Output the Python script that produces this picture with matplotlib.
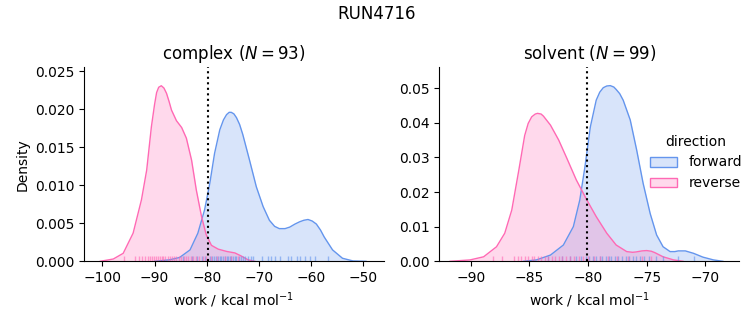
import matplotlib.pyplot as plt
from matplotlib.patches import Patch
from matplotlib.colors import to_rgba

# KDE curves (work in kcal/mol, density)
cx_fwd_x = [-90.0, -87.1, -85.2, -83.2, -81.7, -80.4, -79.4, -78.5, -77.5, -76.8, -76.2, -75.7, -75.3,
            -74.8, -74.3, -73.7, -73.1, -71.8, -70.5, -69.2, -68.0, -67.0, -66.1, -65.0, -64.1, -63.1,
            -62.2, -61.4, -60.6, -59.8, -59.0, -58.2, -57.5, -55.9, -54.0, -52.0, -49.5]
cx_fwd_y = [0.0, 0.0002, 0.0005, 0.0015, 0.0037, 0.0068, 0.0103, 0.0142, 0.0173, 0.0186, 0.0193, 0.0196, 0.0196,
            0.0194, 0.0189, 0.0180, 0.0167, 0.0133, 0.0098, 0.0072, 0.0054, 0.0046, 0.0043, 0.0043, 0.0045, 0.0049,
            0.0052, 0.0054, 0.0055, 0.0053, 0.0049, 0.0041, 0.0032, 0.0015, 0.0004, 0.00005, 0.0]
cx_rev_x = [-100.4, -97.9, -96.0, -94.1, -92.5, -91.5, -90.6, -90.0, -89.6, -89.2, -88.7, -88.2, -87.7,
            -87.2, -86.75, -85.8, -84.8, -83.9, -82.9, -82.0, -81.0, -80.1, -79.1, -77.8, -76.2, -74.6,
            -73.4, -72.1, -70.8]
cx_rev_y = [0.0, 0.0003, 0.00105, 0.0037, 0.0081, 0.0120, 0.0177, 0.0206, 0.0222, 0.0229, 0.0231, 0.0228, 0.0221,
            0.0210, 0.0199, 0.0185, 0.0176, 0.0162, 0.0133, 0.0094, 0.0059, 0.0035, 0.0021, 0.0016, 0.0013, 0.0011,
            0.0007, 0.0002, 0.0]

sv_fwd_x = [-85.5, -84.4, -83.2, -82.1, -81.25, -80.7, -80.26, -79.8, -79.3, -79.0, -78.7, -78.4, -78.1,
            -77.8, -77.6, -77.3, -77.0, -76.4, -75.85, -75.3, -74.7, -74.15, -73.6, -73.0, -72.6, -72.3,
            -71.7, -71.0, -70.2, -69.3, -68.5]
sv_fwd_y = [0.0, 0.0004, 0.0018, 0.0047, 0.0100, 0.0177, 0.0273, 0.0388, 0.0465, 0.0488, 0.0501, 0.0506, 0.0507,
            0.0503, 0.0496, 0.0484, 0.0465, 0.0408, 0.0321, 0.0225, 0.0138, 0.0076, 0.0042, 0.0028, 0.0028, 0.0030,
            0.0030, 0.0023, 0.0012, 0.0004, 0.0]
sv_rev_x = [-91.76, -90.06, -88.9, -87.8, -87.1, -86.5, -85.9, -85.4, -85.1, -84.8, -84.5, -84.3, -84.0,
            -83.8, -83.2, -82.5, -81.8, -81.0, -80.1, -79.3, -78.4, -77.6, -76.7, -76.2, -75.9, -75.4, -75.0,
            -74.6, -74.3, -73.6, -72.7, -71.9]
sv_rev_y = [0.0, 0.0004, 0.0013, 0.0042, 0.0081, 0.0148, 0.0263, 0.0363, 0.0398, 0.0417, 0.0425, 0.0427, 0.0425,
            0.0419, 0.0393, 0.0350, 0.0297, 0.0235, 0.0177, 0.0129, 0.0081, 0.0047, 0.0028, 0.0026, 0.0027, 0.0030, 0.0031,
            0.0029, 0.0025, 0.0013, 0.0004, 0.0]

# rug positions (approximate, read from the tick marks)
cx_fwd_rug = [-84.6, -82.9, -81.8, -81.0, -80.4, -79.4, -79.0, -78.6, -78.3, -77.9, -77.5, -77.2, -76.9,
              -76.5, -76.2, -75.9, -75.6, -75.3, -75.0, -74.6, -74.3, -73.9, -73.5, -73.1, -72.6, -72.1,
              -71.6, -71.2, -69.5, -68.3, -67.6, -67.0, -66.0, -64.4, -63.8, -62.8, -62.2, -61.2, -60.3,
              -59.3, -56.8]
cx_rev_rug = [-95.8, -93.7, -93.0, -92.4, -91.8, -91.3, -90.9, -90.5, -90.1, -89.7, -89.3, -89.0, -88.6,
              -88.3, -87.9, -87.5, -87.1, -86.7, -86.2, -85.8, -85.4, -84.9, -84.4, -83.9, -83.5, -83.0,
              -82.6, -82.0, -81.4, -80.8, -80.2, -79.2, -78.0, -76.5, -75.3, -74.1]
sv_fwd_rug = [-83.4, -82.2, -81.5, -81.0, -80.6, -80.2, -79.9, -79.6, -79.3, -79.0, -78.8, -78.5, -78.2,
              -78.0, -77.7, -77.4, -77.1, -76.8, -76.5, -76.2, -75.9, -75.6, -75.2, -74.8, -74.2, -73.6,
              -72.3, -71.0]
sv_rev_rug = [-88.1, -87.3, -86.3, -86.0, -85.7, -85.4, -85.1, -84.8, -84.6, -84.3, -84.0, -83.7, -83.4,
              -83.1, -82.8, -82.5, -82.2, -81.9, -81.5, -81.2, -80.8, -80.4, -80.0, -79.5, -79.0, -78.3,
              -77.5, -76.6, -75.4, -74.6]

cx_estimate = -79.7
sv_estimate = -80.1

panels = [
    dict(name='complex', n=93, fwd=(cx_fwd_x, cx_fwd_y), rev=(cx_rev_x, cx_rev_y),
         rug=(cx_fwd_rug, cx_rev_rug), est=cx_estimate, xlim=(-103.5, -46.1),
         ylim=(0, 0.02553), yticks=[0, 0.005, 0.01, 0.015, 0.02, 0.025], ytfmt='{:.3f}',
         pos=[0.1116, 0.196, 0.398, 0.597]),
    dict(name='solvent', n=99, fwd=(sv_fwd_x, sv_fwd_y), rev=(sv_rev_x, sv_rev_y),
         rug=(sv_fwd_rug, sv_rev_rug), est=sv_estimate, xlim=(-92.68, -67.1),
         ylim=(0, 0.056), yticks=[0, 0.01, 0.02, 0.03, 0.04, 0.05], ytfmt='{:.2f}',
         pos=[0.5834, 0.196, 0.3984, 0.597]),
]

fwd_col = 'cornflowerblue'
rev_col = 'hotpink'

fig = plt.figure(figsize=(7.53, 3.25), dpi=100)
fig.suptitle('RUN4716', fontsize=12, y=0.985)

for i, p in enumerate(panels):
    ax = fig.add_axes(p['pos'])
    for (xs, ys), col in [(p['fwd'], fwd_col), (p['rev'], rev_col)]:
        ax.fill_between(xs, ys, color=col, alpha=0.25, lw=0)
        ax.plot(xs, ys, color=col, lw=1, solid_joinstyle='round')
    for rug, col in zip(p['rug'], [fwd_col, rev_col]):
        ax.vlines(rug, 0, 0.025, transform=ax.get_xaxis_transform(), color=col, lw=1, alpha=0.6)
    ax.axvline(p['est'], color='black', ls=':', lw=1.5)
    ax.set_xlim(*p['xlim'])
    ax.set_ylim(*p['ylim'])
    ax.set_yticks(p['yticks'])
    ax.set_yticklabels([p['ytfmt'].format(t) for t in p['yticks']])
    ax.spines['top'].set_visible(False)
    ax.spines['right'].set_visible(False)
    ax.set_xlabel(r'work / kcal mol$^{-1}$')
    ax.set_title(f"{p['name']} ($N = {p['n']}$)", fontsize=12)
    if i == 0:
        ax.set_ylabel('Density')

handles = [Patch(facecolor=to_rgba(fwd_col, 0.25), edgecolor=fwd_col, label='forward'),
           Patch(facecolor=to_rgba(rev_col, 0.25), edgecolor=rev_col, label='reverse')]
fig.legend(handles=handles, title='direction', loc='center left',
           bbox_to_anchor=(0.846, 0.5), frameon=False)

fig.savefig('out.png', dpi=100)
